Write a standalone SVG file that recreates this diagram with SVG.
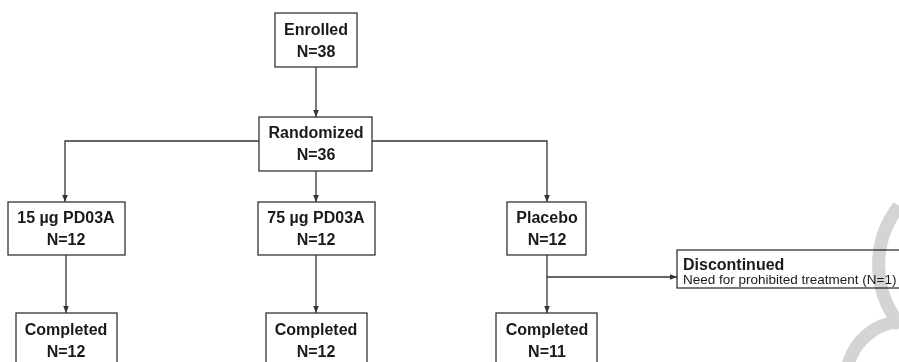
<svg xmlns="http://www.w3.org/2000/svg" width="899" height="362" viewBox="0 0 899 362">
<defs>
<style>
.box{fill:#fff;stroke:#333;stroke-width:1.3}
.t{font-family:"Liberation Sans",Arial,sans-serif;font-weight:bold;font-size:16px;fill:#1a1a1a;text-anchor:middle}
.s{font-family:"Liberation Sans",Arial,sans-serif;font-size:13.5px;fill:#1a1a1a}
.ln{fill:none;stroke:#333;stroke-width:1.3}
.wm{fill:none;stroke:#d4d4d4;stroke-width:13}
</style>
<marker id="ah" viewBox="0 0 10 10" refX="10" refY="5" markerWidth="7" markerHeight="7" orient="auto" markerUnits="userSpaceOnUse">
<path d="M0,1 L10,5 L0,9 z" fill="#333"/>
</marker>
</defs>
<rect width="899" height="362" fill="#fff"/>
<g id="connectors">
<line class="ln" x1="316" y1="67" x2="316" y2="117" marker-end="url(#ah)"/>
<polyline class="ln" points="259,141 65,141 65,202" marker-end="url(#ah)"/>
<line class="ln" x1="316" y1="171" x2="316" y2="202" marker-end="url(#ah)"/>
<polyline class="ln" points="372,141 547,141 547,202" marker-end="url(#ah)"/>
<line class="ln" x1="66" y1="255" x2="66" y2="313" marker-end="url(#ah)"/>
<line class="ln" x1="316" y1="255" x2="316" y2="313" marker-end="url(#ah)"/>
<line class="ln" x1="547" y1="255" x2="547" y2="313" marker-end="url(#ah)"/>
<line class="ln" x1="547" y1="277" x2="677" y2="277" marker-end="url(#ah)"/>
</g>
<g id="enrolled">
<rect class="box" x="275" y="13" width="82" height="54"/>
<text class="t" x="316" y="35">Enrolled</text>
<text class="t" x="316" y="57">N=38</text>
</g>
<g id="randomized">
<rect class="box" x="259" y="117" width="113" height="54"/>
<text class="t" x="316" y="138">Randomized</text>
<text class="t" x="316" y="160">N=36</text>
</g>
<g id="arm15">
<rect class="box" x="8" y="202" width="117" height="53"/>
<text class="t" x="66" y="223">15 µg PD03A</text>
<text class="t" x="66" y="245">N=12</text>
</g>
<g id="arm75">
<rect class="box" x="258" y="202" width="117" height="53"/>
<text class="t" x="316" y="223">75 µg PD03A</text>
<text class="t" x="316" y="245">N=12</text>
</g>
<g id="placebo">
<rect class="box" x="507" y="202" width="79" height="53"/>
<text class="t" x="547" y="223">Placebo</text>
<text class="t" x="547" y="245">N=12</text>
</g>
<g id="discontinued">
<rect class="box" x="677" y="250" width="240" height="38"/>
<text class="t" x="683" y="270" style="text-anchor:start">Discontinued</text>
<text class="s" x="683" y="284">Need for prohibited treatment (N=1)</text>
</g>
<g id="completed15">
<rect class="box" x="16" y="313" width="101" height="60"/>
<text class="t" x="66" y="335">Completed</text>
<text class="t" x="66" y="357">N=12</text>
</g>
<g id="completed75">
<rect class="box" x="266" y="313" width="101" height="60"/>
<text class="t" x="316" y="335">Completed</text>
<text class="t" x="316" y="357">N=12</text>
</g>
<g id="completedPlacebo">
<rect class="box" x="496" y="313" width="101" height="60"/>
<text class="t" x="547" y="335">Completed</text>
<text class="t" x="547" y="357">N=11</text>
</g>
<g id="watermark" style="mix-blend-mode:multiply">
<path class="wm" d="M899,206 A95,95 0 0 0 901,326"/>
<path class="wm" d="M848,366 A56,56 0 0 1 901,322"/>
</g>
</svg>
